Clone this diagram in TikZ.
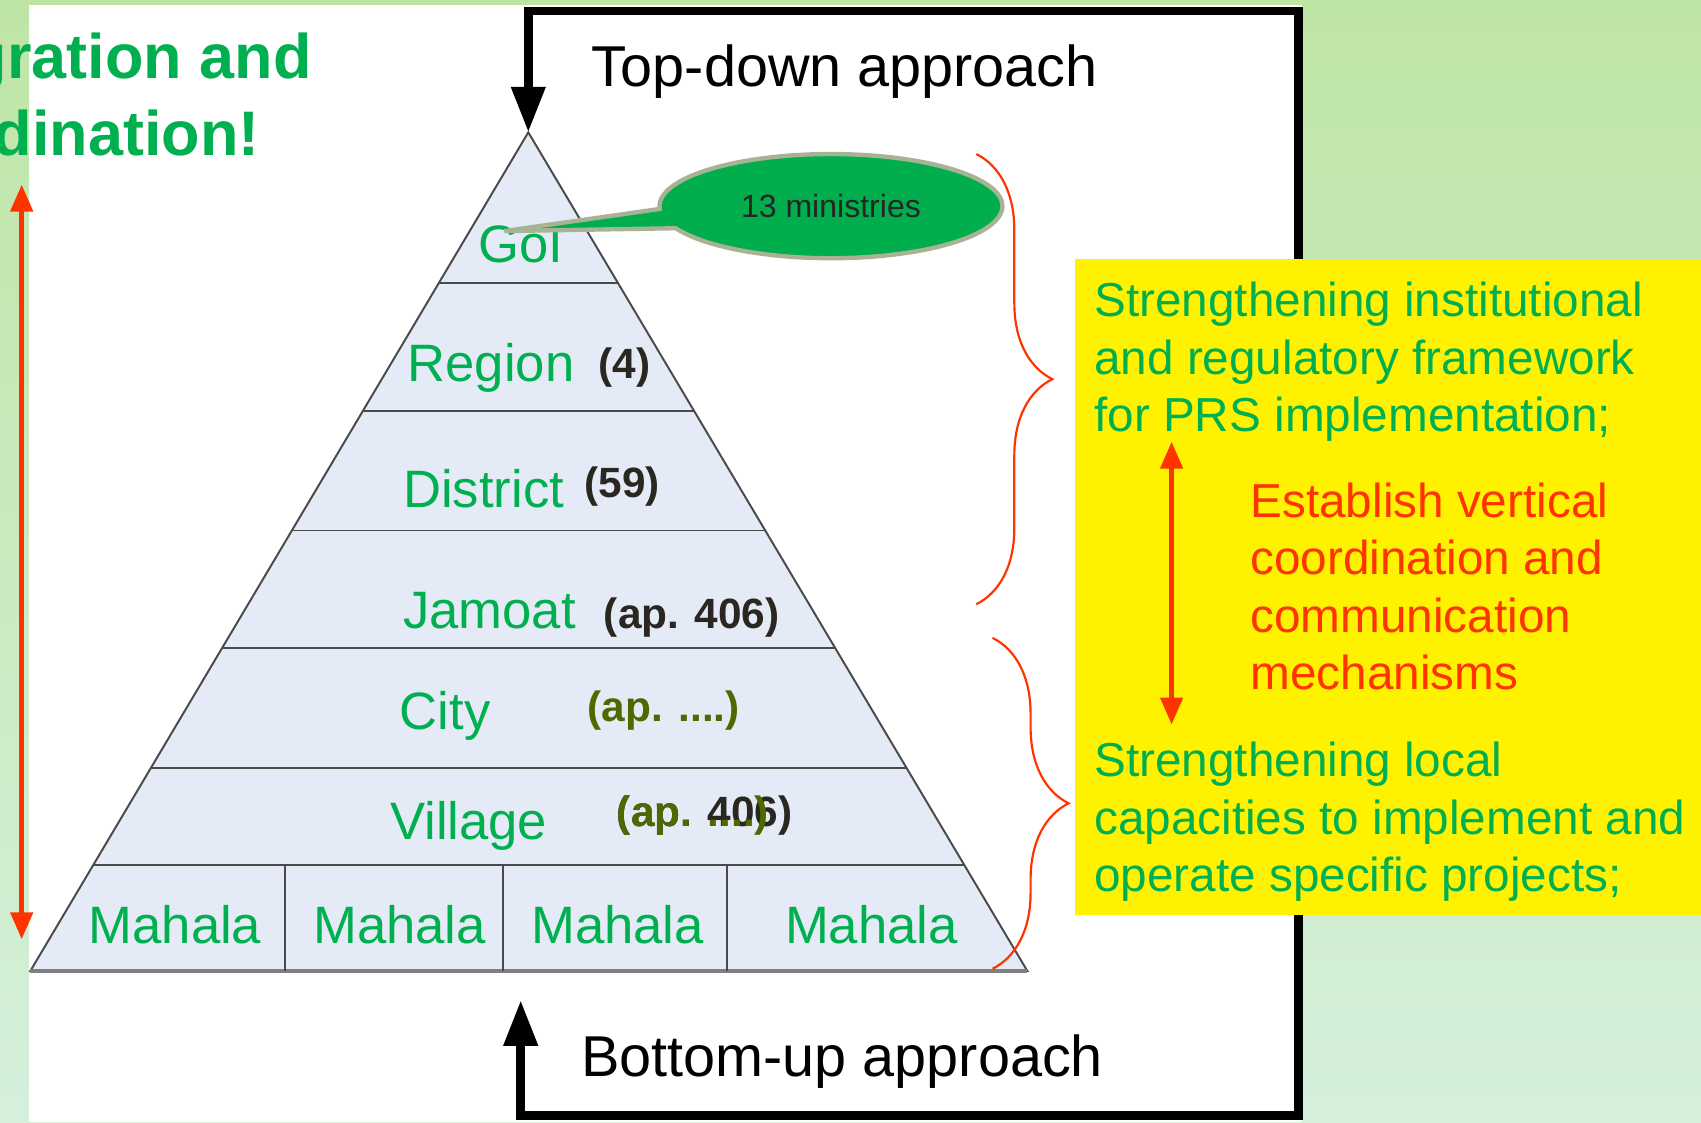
\documentclass[tikz,border=0pt]{standalone}
\usepackage{fontspec}
\setmainfont{Liberation Sans}
\usetikzlibrary{arrows.meta,shapes.callouts,decorations.pathreplacing,calc}
\definecolor{tgreen}{HTML}{00B050}
\definecolor{bgtop}{HTML}{BFE5A5}
\definecolor{bgbot}{HTML}{D5EFDB}
\definecolor{pyrfill}{HTML}{E5EBF6}
\definecolor{pyrgray}{HTML}{4A4A4A}
\definecolor{arrred}{HTML}{FF3300}
\definecolor{olivetxt}{HTML}{4C6A00}
\definecolor{darktxt}{HTML}{29271F}
\definecolor{callfill}{HTML}{00AE4D}
\definecolor{callline}{HTML}{A8B396}
\definecolor{calltxt}{HTML}{262626}
\tikzset{
 lbl/.style={font=\fontsize{13.8}{16}\selectfont, text=tgreen, inner sep=0pt, anchor=base west},
 cnt/.style={font=\bfseries\fontsize{11.1}{13}\selectfont, text=darktxt, inner sep=0pt, anchor=base west},
 cntol/.style={cnt, text=olivetxt},
 apptxt/.style={font=\fontsize{15.1}{17}\selectfont, text=black, inner sep=0pt, anchor=base west},
 ytxt/.style={font=\fontsize{12.5}{15}\selectfont, text=tgreen, inner sep=0pt, anchor=base west},
 rtxt/.style={ytxt, text=arrred},
 ttl/.style={font=\bfseries\fontsize{16.5}{19}\selectfont, text=tgreen, inner sep=0pt, anchor=base east},
 redarr/.style={draw=arrred, line width=0.05cm, {Triangle[width=0.2cm,length=0.25cm]}-{Triangle[width=0.2cm,length=0.25cm]}},
 bracestyle/.style={draw=arrred, line width=0.02cm, decorate, decoration={brace, amplitude=0.7cm}},
 pyrl/.style={draw=pyrgray, line width=0.018cm},
 blackarr/.style={draw=black, line width=0.08cm, line join=miter, {Triangle[width=0.3cm,length=0.42cm]}-{Triangle[width=0.3cm,length=0.42cm]}},
}
\begin{document}
\begin{tikzpicture}[x=0.01cm,y=-0.01cm]
\useasboundingbox (0,0) rectangle (1568,1034.3);
% background
\shade[top color=bgtop,bottom color=bgbot] (0,0) rectangle (1568,1034.3);
\fill[white] (27,5) rectangle (1200,1034.3);

% black approach frame
\coordinate (apex) at (487,122);
\coordinate (tl) at (487,10);
\coordinate (tr) at (1197,10);
\coordinate (br) at (1197,1028);
\coordinate (bl) at (480,1028);
\coordinate (buptip) at (480,922);
\draw[blackarr] (buptip) -- (bl) -- (br) -- (tr) -- (tl) -- (apex);

\node[apptxt] (topdown) at (545,80) {Top-down approach};
\node[apptxt] (bottomup) at (535,992) {Bottom-up approach};

% pyramid
\coordinate (pL) at (28,895);
\coordinate (pR) at (947,895);
\filldraw[fill=pyrfill, pyrl] (apex) -- (pR) -- (pL) -- cycle;
\foreach \t in {0.1798,0.3325,0.4748,0.6145,0.7581,0.8732}{
  \draw[pyrl] ($(apex)!\t!(pL)$) -- ($(apex)!\t!(pR)$);
}
\draw[pyrgray!70, line width=0.03cm] (pL) -- (pR);
\foreach \x in {263,464,670}{
  \draw[pyrl] (\x,797) -- (\x,895);
}

% level labels
\node[lbl] (goi) at (440,242) {GoI};
\node[lbl] (region) at (375,352) {Region};
\node[lbl] (district) at (371,468) {District};
\node[lbl] (jamoat) at (371,579) {Jamoat};
\node[lbl] (city) at (368,672) {City};
\node[lbl] (village) at (359,774) {Village};
\node[lbl] (mah1) at (81,870) {Mahala};
\node[lbl] (mah2) at (288,870) {Mahala};
\node[lbl] (mah3) at (489,870) {Mahala};
\node[lbl] (mah4) at (723,870) {Mahala};

% counts
\node[cnt] (c4) at (551,349) {(4)};
\node[cnt] (c59) at (538,459) {(59)};
\node[cnt] (c406) at (556,579) {(ap. 406)};
\node[cntol] (ccity) at (541,665) {(ap. ....)};
\node[cnt] (cvil) at (568,762) {(ap. 406)};
\node[cntol] (cvilo) at (568,762) {(ap. ....)};

% callout
\coordinate (goitip) at (465,213);
\node[ellipse callout, fill=callfill, draw=callline, line width=0.04cm,
      minimum width=3.16cm, minimum height=0.96cm, inner sep=0pt,
      callout absolute pointer={(goitip)}, callout pointer arc=22,
      text=calltxt, font=\fontsize{8.4}{10}\selectfont] (minis) at (766,190) {13 ministries};

% braces
\coordinate (b1t) at (900,142);
\coordinate (b1b) at (900,557);
\coordinate (b2t) at (915,588);
\coordinate (b2b) at (915,893);
\draw[bracestyle] (b1t) -- (b1b);
\draw[bracestyle] (b2t) -- (b2b);

% left red arrow
\coordinate (la1) at (20,170);
\coordinate (la2) at (20,866);
\draw[redarr] (la1) -- (la2);

% title
\node[ttl] (title1) at (288,72) {gration and};
\node[ttl] (title2) at (240,143) {dination!};

% yellow box
\node[fill=yellow, minimum width=5.78cm, minimum height=6.04cm, inner sep=0pt, anchor=north west] (ybox) at (990,238) {};
\node[ytxt] (s1a) at (1008,292) {Strengthening institutional};
\node[ytxt] (s1b) at (1008,345) {and regulatory framework};
\node[ytxt] (s1c) at (1008,398) {for PRS implementation;};
\node[rtxt] (e1) at (1152,477) {Establish vertical};
\node[rtxt] (e2) at (1152,530) {coordination and};
\node[rtxt] (e3) at (1152,583) {communication};
\node[rtxt] (e4) at (1152,636) {mechanisms};
\node[ytxt] (s2a) at (1008,716) {Strengthening local};
\node[ytxt] (s2b) at (1008,769) {capacities to implement and};
\node[ytxt] (s2c) at (1008,822) {operate specific projects;};
\coordinate (ra1) at (1080,407);
\coordinate (ra2) at (1080,668);
\draw[redarr] (ra1) -- (ra2);
\end{tikzpicture}
\end{document}
